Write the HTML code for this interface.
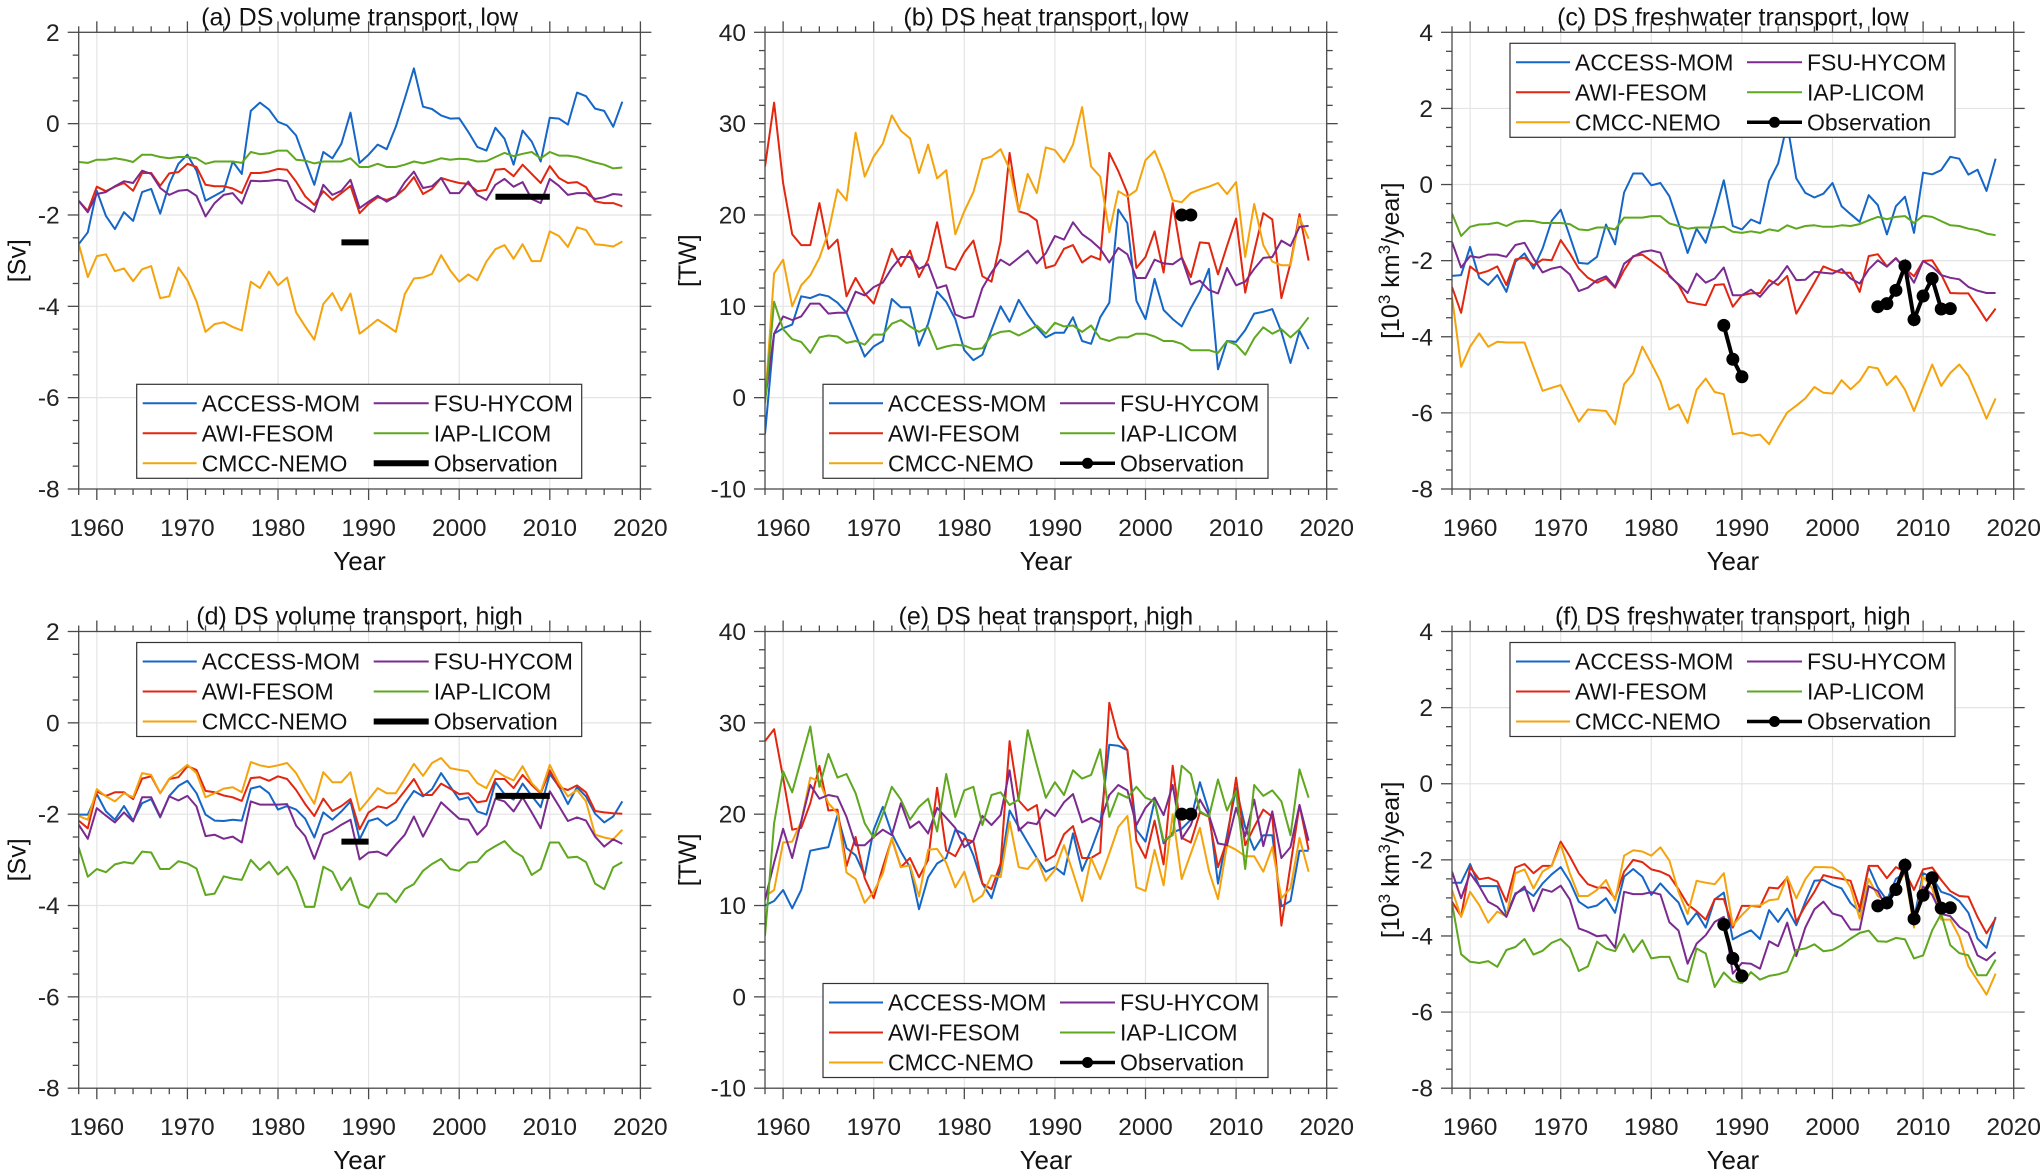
<!DOCTYPE html>
<html><head><meta charset="utf-8"><title>DS transports</title>
<style>
html,body{margin:0;padding:0;background:#fff;}
svg{display:block;font-family:"Liberation Sans",Arial,sans-serif;}
</style></head>
<body>
<svg id="fig" width="2043" height="1174" viewBox="0 0 2043 1174" xmlns="http://www.w3.org/2000/svg"></svg>
<script>
const startYear = 1958;
const endYear = 2018;
const xTickLabels = [1960,1970,1980,1990,2000,2010,2020];
const seriesNames = ["ACCESS-MOM","AWI-FESOM","CMCC-NEMO","FSU-HYCOM","IAP-LICOM"];

const a_access=[-2.64,-2.38,-1.47,-2.02,-2.31,-1.94,-2.13,-1.5,-1.43,-1.97,-1.32,-0.88,-0.68,-1.03,-1.69,-1.58,-1.47,-0.83,-1.1,0.28,0.46,0.31,0.04,-0.04,-0.26,-0.81,-1.34,-0.62,-0.76,-0.44,0.24,-0.86,-0.68,-0.46,-0.56,-0.07,0.55,1.21,0.37,0.32,0.18,0.11,0.12,-0.18,-0.51,-0.59,-0.09,-0.33,-0.9,-0.15,-0.39,-0.83,0.13,0.11,-0.02,0.68,0.6,0.33,0.28,-0.07,0.48];
const a_awi=[-1.69,-1.91,-1.38,-1.48,-1.38,-1.3,-1.47,-1.08,-1.08,-1.36,-1.09,-1.06,-0.88,-0.95,-1.34,-1.37,-1.37,-1.42,-1.52,-1.08,-1.08,-1.05,-0.99,-1.01,-1.27,-1.59,-1.78,-1.48,-1.67,-1.52,-1.36,-1.96,-1.76,-1.61,-1.67,-1.59,-1.42,-1.17,-1.54,-1.43,-1.19,-1.25,-1.3,-1.32,-1.48,-1.45,-1.01,-0.99,-1.15,-0.9,-1.1,-1.3,-0.93,-1.19,-1.3,-1.28,-1.39,-1.7,-1.74,-1.74,-1.81];
const a_cmcc=[-2.63,-3.36,-2.9,-2.86,-3.23,-3.17,-3.45,-3.19,-3.12,-3.82,-3.78,-3.15,-3.43,-3.89,-4.56,-4.39,-4.35,-4.45,-4.53,-3.46,-3.6,-3.24,-3.54,-3.37,-4.13,-4.44,-4.73,-3.95,-3.71,-4.09,-3.72,-4.6,-4.45,-4.29,-4.42,-4.56,-3.73,-3.39,-3.37,-3.29,-2.88,-3.21,-3.46,-3.3,-3.43,-3.02,-2.75,-2.66,-2.96,-2.64,-3.01,-3.01,-2.36,-2.46,-2.7,-2.27,-2.33,-2.64,-2.66,-2.69,-2.58];
const a_fsu=[-1.69,-1.94,-1.54,-1.5,-1.37,-1.26,-1.3,-1.03,-1.1,-1.41,-1.56,-1.47,-1.45,-1.58,-2.03,-1.74,-1.56,-1.52,-1.75,-1.25,-1.26,-1.25,-1.23,-1.26,-1.67,-1.8,-1.93,-1.34,-1.56,-1.47,-1.23,-1.85,-1.71,-1.58,-1.71,-1.59,-1.28,-1.05,-1.41,-1.37,-1.19,-1.52,-1.52,-1.27,-1.56,-1.67,-1.34,-1.21,-1.38,-1.28,-1.65,-1.74,-1.21,-1.36,-1.56,-1.52,-1.52,-1.65,-1.61,-1.54,-1.56];
const a_iap=[-0.84,-0.86,-0.79,-0.79,-0.76,-0.79,-0.84,-0.68,-0.68,-0.73,-0.76,-0.73,-0.73,-0.76,-0.88,-0.83,-0.83,-0.83,-0.86,-0.62,-0.67,-0.65,-0.59,-0.59,-0.79,-0.81,-0.87,-0.83,-0.83,-0.83,-0.76,-0.95,-0.95,-0.88,-0.95,-0.95,-0.9,-0.83,-0.87,-0.82,-0.76,-0.79,-0.77,-0.78,-0.83,-0.82,-0.73,-0.64,-0.71,-0.66,-0.62,-0.76,-0.62,-0.7,-0.7,-0.73,-0.79,-0.85,-0.9,-0.98,-0.96];

const b_access=[-4,7.0,7.6,8.0,11.1,10.9,11.3,11.1,10.4,9.3,6.9,4.5,5.6,6.2,10.8,9.9,9.9,5.7,8.1,11.6,10.5,8.6,5.2,4.1,4.7,7.4,10.0,8.3,10.7,9.1,7.7,6.6,7.1,7.1,8.8,6.2,5.9,8.8,10.4,20.6,19.1,10.6,8.6,13.0,9.6,8.6,7.8,9.8,11.6,14.1,3.1,6.2,6.1,7.4,9.2,9.4,9.7,7.2,3.8,7.3,5.3];
const b_awi=[25.3,32.3,23.5,17.9,16.7,16.7,21.3,16.3,17.3,11.1,13.1,11.4,10.3,13.3,16.3,14.4,16.1,13.2,15.1,19.2,14.3,14.0,15.9,17.2,13.3,12.7,17.1,26.8,20.4,20.1,19.4,14.2,14.5,16.3,16.7,14.8,15.5,15.1,26.8,24.8,22.4,14.2,15.4,18.2,13.7,21.3,15.4,13.2,17.0,16.9,13.5,16.6,19.6,11.5,16.0,20.2,19.5,10.9,14.7,20.1,15.0];
const b_cmcc=[-0.6,13.6,15.1,10.0,12.3,13.4,15.3,18.1,22.8,21.6,29.0,24.2,26.4,27.8,30.9,29.2,28.4,24.6,27.7,24.0,24.9,17.9,20.4,22.5,26.1,26.4,27.2,25.0,20.4,24.5,22.4,27.4,27.1,25.8,27.7,31.8,25.3,24.2,18.1,22.6,22.0,22.7,26.0,27.0,24.6,21.6,21.4,22.4,22.8,23.1,23.5,22.3,23.6,15.4,21.2,16.7,14.9,14.5,14.5,19.7,17.4];
const b_fsu=[-0.3,7.0,8.9,8.5,8.9,10.3,10.3,9.2,9.3,9.3,11.6,11.2,12.1,12.6,14.2,15.4,15.4,14.1,14.6,12.0,12.3,9.1,8.7,8.9,12.0,13.7,15.1,14.5,15.3,16.1,14.7,15.8,17.7,17.3,19.2,17.9,17.2,16.3,14.8,16.4,15.7,13.1,13.1,15.1,14.7,14.6,15.3,12.4,12.8,11.8,11.4,14.2,12.3,12.7,14.1,15.3,15.4,17.2,16.6,18.7,18.8];
const b_iap=[-0.6,10.5,7.5,6.4,6.1,4.9,6.6,6.8,6.7,6.0,6.2,5.8,6.9,6.9,8.1,8.5,7.8,7.2,7.7,5.3,5.6,5.8,5.7,5.3,5.4,6.8,7.2,7.3,6.8,7.3,7.9,7.0,8.2,7.8,7.9,7.2,7.9,6.5,6.2,6.6,6.6,7.0,7.0,6.7,6.2,6.2,5.9,5.2,5.2,5.2,4.9,6.2,5.8,4.7,6.5,7.7,7.0,7.5,6.6,7.5,8.8];

const c_access=[-2.4,-2.38,-1.64,-2.45,-2.64,-2.38,-2.82,-2.03,-1.81,-2.21,-1.68,-0.95,-0.66,-1.36,-2.06,-2.08,-1.9,-1.05,-1.57,-0.21,0.29,0.29,-0.02,0.04,-0.31,-1.02,-1.8,-1.16,-1.53,-0.76,0.11,-1.09,-1.18,-0.92,-1.02,0.09,0.55,1.6,0.16,-0.22,-0.34,-0.24,0.04,-0.57,-0.78,-0.98,-0.28,-0.54,-1.31,-0.57,-0.32,-1.27,0.31,0.27,0.38,0.73,0.68,0.26,0.39,-0.17,0.68];
const c_awi=[-2.69,-3.37,-2.15,-2.34,-2.27,-2.15,-2.64,-1.97,-1.92,-2.12,-1.97,-1.99,-1.46,-1.81,-2.21,-2.45,-2.58,-2.47,-2.71,-2.25,-1.88,-1.84,-2.01,-2.19,-2.38,-2.64,-3.08,-3.13,-3.17,-2.64,-2.62,-3.21,-2.91,-2.86,-2.85,-2.51,-2.64,-2.4,-3.39,-2.99,-2.58,-2.15,-2.25,-2.32,-2.32,-2.82,-1.88,-1.83,-2.15,-1.93,-2.21,-2.41,-2.01,-1.99,-2.36,-2.85,-2.86,-2.86,-3.21,-3.58,-3.26];
const c_cmcc=[-2.95,-4.79,-4.26,-3.91,-4.26,-4.13,-4.15,-4.15,-4.15,-4.79,-5.42,-5.34,-5.27,-5.75,-6.23,-5.91,-5.93,-5.95,-6.3,-5.25,-4.96,-4.26,-4.7,-5.17,-5.91,-5.78,-6.26,-5.39,-5.1,-5.45,-5.51,-6.56,-6.52,-6.6,-6.57,-6.82,-6.39,-5.99,-5.81,-5.62,-5.32,-5.47,-5.49,-5.14,-5.38,-5.16,-4.79,-4.83,-5.27,-5.03,-5.39,-5.95,-5.33,-4.73,-5.29,-4.95,-4.73,-5.03,-5.58,-6.15,-5.62];
const c_fsu=[-1.51,-2.18,-1.88,-1.92,-1.84,-1.84,-1.9,-1.59,-1.53,-1.94,-2.31,-2.21,-2.16,-2.36,-2.8,-2.71,-2.51,-2.41,-2.69,-2.08,-1.9,-1.77,-1.73,-1.79,-2.41,-2.62,-2.85,-2.34,-2.58,-2.47,-2.18,-2.91,-2.91,-2.76,-2.95,-2.67,-2.47,-2.14,-2.51,-2.5,-2.29,-2.32,-2.34,-2.22,-2.47,-2.6,-2.23,-1.99,-2.16,-1.94,-2.21,-2.58,-2.01,-2.16,-2.38,-2.45,-2.49,-2.69,-2.79,-2.85,-2.85];
const c_iap=[-0.76,-1.35,-1.11,-1.05,-1.04,-1.0,-1.09,-0.98,-0.95,-0.96,-1.01,-1.01,-1.01,-1.04,-1.18,-1.2,-1.13,-1.13,-1.18,-0.87,-0.87,-0.87,-0.83,-0.83,-1.02,-1.09,-1.16,-1.13,-1.13,-1.13,-1.11,-1.24,-1.27,-1.23,-1.27,-1.18,-1.22,-1.07,-1.16,-1.09,-1.07,-1.11,-1.11,-1.07,-1.09,-1.04,-0.94,-0.85,-0.91,-0.85,-0.83,-1.01,-0.82,-0.85,-0.96,-1.07,-1.09,-1.16,-1.2,-1.29,-1.33];

const d_access=[-2.01,-2.01,-1.56,-1.94,-2.12,-1.82,-2.14,-1.76,-1.67,-2.07,-1.6,-1.38,-1.27,-1.54,-2.01,-2.14,-2.15,-2.12,-2.14,-1.44,-1.39,-1.54,-1.9,-1.82,-1.9,-2.1,-2.51,-1.96,-2.12,-1.94,-1.72,-2.55,-2.15,-2.09,-2.25,-2.12,-1.78,-1.49,-1.61,-1.45,-1.1,-1.39,-1.68,-1.63,-1.94,-2.01,-1.3,-1.56,-1.68,-1.33,-1.6,-1.85,-1.12,-1.39,-1.78,-1.41,-1.61,-1.99,-2.18,-2.05,-1.72];
const d_awi=[-2.14,-2.31,-1.5,-1.6,-1.52,-1.52,-1.67,-1.22,-1.17,-1.54,-1.23,-1.19,-0.95,-1.03,-1.49,-1.52,-1.59,-1.63,-1.71,-1.21,-1.19,-1.27,-1.17,-1.23,-1.47,-1.78,-2.04,-1.66,-1.93,-1.82,-1.67,-2.33,-1.96,-1.83,-1.87,-1.74,-1.49,-1.23,-1.58,-1.58,-1.33,-1.44,-1.56,-1.54,-1.74,-1.71,-1.23,-1.23,-1.43,-1.14,-1.36,-1.54,-1.04,-1.41,-1.47,-1.37,-1.52,-1.93,-1.96,-1.98,-1.99];
const d_cmcc=[-2.04,-2.12,-1.45,-1.61,-1.72,-1.54,-1.63,-1.1,-1.14,-1.54,-1.22,-1.08,-0.92,-1.1,-1.63,-1.54,-1.44,-1.41,-1.52,-0.86,-0.93,-0.97,-0.93,-0.88,-1.1,-1.45,-1.77,-1.08,-1.3,-1.3,-1.08,-1.92,-1.68,-1.43,-1.54,-1.54,-1.23,-0.9,-1.16,-0.88,-0.77,-0.99,-1.03,-1.06,-1.32,-1.43,-1.04,-1.17,-1.26,-0.95,-1.32,-1.52,-0.92,-1.32,-1.61,-1.47,-1.72,-2.45,-2.51,-2.55,-2.34];
const d_fsu=[-2.23,-2.54,-1.87,-2.03,-2.18,-1.96,-2.16,-1.63,-1.63,-2.05,-1.61,-1.7,-1.6,-1.83,-2.48,-2.45,-2.54,-2.49,-2.62,-1.72,-1.79,-1.79,-1.79,-1.78,-2.25,-2.48,-2.98,-2.45,-2.36,-2.23,-2.12,-2.99,-2.84,-2.82,-2.91,-2.67,-2.45,-2.05,-2.49,-2.12,-1.74,-1.92,-2.1,-2.12,-2.45,-2.25,-1.66,-1.72,-1.94,-1.63,-1.96,-2.31,-1.5,-1.82,-2.15,-2.07,-2.14,-2.49,-2.71,-2.55,-2.65];
const d_iap=[-2.73,-3.37,-3.2,-3.27,-3.1,-3.05,-3.08,-2.82,-2.84,-3.2,-3.2,-3.03,-3.08,-3.19,-3.77,-3.74,-3.36,-3.41,-3.44,-3.0,-3.22,-3.04,-3.32,-3.15,-3.47,-4.03,-4.03,-3.15,-3.26,-3.66,-3.39,-3.97,-4.05,-3.74,-3.74,-3.93,-3.64,-3.53,-3.24,-3.09,-2.98,-3.2,-3.24,-3.06,-3.04,-2.82,-2.7,-2.59,-2.81,-2.93,-3.33,-3.2,-2.62,-2.62,-2.95,-2.93,-3.05,-3.52,-3.64,-3.16,-3.05];

const e_access=[10.0,10.5,11.7,9.7,11.7,16.0,16.2,16.4,19.9,16.3,15.5,13.3,18.3,20.8,17.9,15.9,14.2,9.6,13.1,14.6,15.2,18.3,17.8,15.5,12.4,10.8,14.1,20.4,18.6,16.9,15.2,13.7,14.2,13.4,17.9,13.8,16.1,18.8,27.6,27.5,27.0,18.3,17.0,21.5,16.8,18.0,18.4,19.4,23.5,20.3,12.4,17.7,22.9,18.6,16.1,17.7,17.7,9.9,10.5,16.0,16.0];
const e_awi=[28.0,29.3,24.0,18.3,18.5,21.2,25.3,20.4,20.5,14.3,17.5,13.0,10.8,14.2,17.3,14.2,15.2,13.1,15.0,22.9,16.0,15.4,17.3,17.0,12.4,11.8,14.6,28.0,21.5,20.4,21.0,14.9,15.5,17.8,18.7,15.2,15.2,15.8,32.2,28.4,27.0,17.1,15.2,19.3,14.5,25.3,17.4,16.9,20.2,19.7,14.2,17.1,24.0,16.6,18.6,20.5,19.7,7.8,14.4,21.0,16.1];
const e_cmcc=[11.0,11.7,16.9,17.0,19.2,24.0,23.6,21.2,20.1,13.6,12.9,10.3,11.5,13.5,17.4,14.2,14.4,11.0,16.1,16.2,14.7,12.0,13.7,10.4,11.1,13.3,13.1,19.2,14.2,14.0,15.2,12.7,13.9,16.6,13.6,10.5,15.2,12.9,15.7,18.6,19.8,12.0,11.6,16.1,12.2,20.0,12.9,15.7,18.5,13.8,10.7,16.6,16.1,15.4,15.4,13.7,16.4,10.8,11.9,17.4,13.7];
const e_fsu=[10.6,14.7,18.4,15.2,19.2,23.2,21.7,22.1,21.9,19.7,16.6,16.6,17.5,18.3,17.7,21.2,18.5,19.2,17.9,20.7,19.6,18.5,16.4,17.1,19.8,18.8,19.9,24.8,18.2,19.1,18.9,20.5,19.8,21.3,22.2,19.1,19.6,19.1,22.1,23.2,22.6,18.8,20.7,21.8,19.9,23.2,17.3,18.8,21.6,19.9,16.8,16.6,20.7,17.6,21.6,16.5,20.3,15.2,16.4,21.0,17.1];
const e_iap=[6.7,19.0,24.7,22.4,26.0,29.6,23.0,26.6,24.0,24.4,22.3,19.0,17.4,20.0,23.0,21.6,19.4,20.8,21.7,18.1,24.4,19.7,22.6,23.0,18.8,22.1,22.4,21.0,21.6,29.2,25.4,21.8,23.5,22.1,24.8,23.9,24.3,27.1,19.7,22.3,21.8,23.0,21.8,21.4,17.1,17.7,25.3,24.4,20.3,19.7,23.8,20.4,22.5,14.0,23.2,22.0,22.6,21.4,17.7,24.9,21.8];

const f_access=[-2.6,-2.6,-2.11,-2.69,-2.69,-2.69,-3.45,-2.88,-2.77,-2.95,-2.62,-2.38,-2.19,-2.57,-3.1,-3.26,-3.2,-3.01,-3.39,-2.44,-2.24,-2.44,-2.92,-2.62,-2.88,-3.12,-3.7,-3.39,-3.78,-3.04,-2.86,-4.09,-3.96,-3.85,-4.08,-3.32,-3.63,-3.28,-3.72,-3.1,-2.55,-2.53,-2.66,-2.75,-3.14,-3.36,-2.19,-2.73,-3.06,-2.5,-2.35,-3.56,-2.35,-2.46,-2.84,-2.92,-3.08,-3.39,-4.07,-4.31,-3.5];
const f_awi=[-3.1,-3.48,-2.19,-2.51,-2.47,-2.57,-3.1,-2.2,-2.11,-2.35,-2.16,-2.16,-1.52,-1.91,-2.35,-2.64,-2.73,-2.73,-3.01,-2.31,-2.0,-2.06,-2.25,-2.31,-2.42,-2.77,-3.17,-3.35,-3.57,-3.03,-3.03,-3.78,-3.21,-3.21,-3.23,-2.73,-2.75,-2.47,-3.63,-3.21,-2.84,-2.4,-2.46,-2.5,-2.55,-3.28,-2.16,-2.16,-2.48,-2.19,-2.31,-2.79,-2.25,-2.2,-2.53,-2.82,-2.95,-2.97,-3.5,-3.93,-3.54];
const f_cmcc=[-2.79,-3.5,-2.84,-3.19,-3.65,-3.36,-3.48,-2.35,-2.25,-2.75,-2.31,-2.16,-1.6,-2.35,-2.95,-2.95,-2.79,-2.53,-3.06,-1.89,-1.75,-1.78,-1.89,-1.67,-2.02,-2.84,-3.42,-2.55,-2.6,-2.64,-2.35,-3.72,-3.45,-3.21,-3.2,-3.06,-3.03,-2.44,-3.01,-2.51,-2.19,-2.19,-2.2,-2.35,-2.73,-3.54,-2.5,-2.95,-3.08,-2.75,-2.33,-3.78,-2.44,-2.75,-3.57,-3.57,-4.02,-4.8,-5.17,-5.54,-4.99];
const f_fsu=[-2.31,-3.01,-2.35,-2.69,-3.1,-3.23,-3.5,-2.91,-2.7,-3.35,-2.77,-2.84,-2.68,-3.04,-3.8,-3.89,-4.01,-3.98,-4.31,-2.84,-2.9,-2.9,-2.85,-2.91,-3.64,-3.86,-4.73,-4.2,-3.98,-3.63,-3.5,-4.99,-4.71,-4.73,-4.86,-4.14,-4.27,-3.65,-4.53,-3.78,-3.3,-3.1,-3.41,-3.48,-3.83,-3.83,-2.69,-2.82,-3.28,-2.66,-2.31,-3.61,-2.7,-2.92,-3.42,-3.48,-3.76,-3.92,-4.51,-4.64,-4.42];
const f_iap=[-3.14,-4.48,-4.68,-4.71,-4.66,-4.81,-4.37,-4.29,-4.08,-4.49,-4.39,-4.18,-4.08,-4.31,-4.92,-4.8,-4.15,-4.33,-4.4,-3.96,-4.42,-4.11,-4.59,-4.55,-4.55,-5.12,-5.21,-4.33,-4.46,-5.34,-4.96,-5.19,-5.24,-4.95,-5.15,-5.05,-5.01,-4.93,-4.37,-4.33,-4.22,-4.4,-4.37,-4.24,-4.07,-3.92,-3.86,-4.14,-4.15,-4.05,-4.09,-4.59,-4.51,-3.85,-3.42,-4.24,-4.45,-4.51,-5.03,-5.03,-4.62];

const obsVolStart=[1987,2004];
const obsVolEnd=[1990,2010];
const obsVolValue=[-2.6,-1.6];
const obsHeatYears=[2004,2005];
const obsHeatValues=[20,20];
const obsFwYears1=[1988,1989,1990];
const obsFwValues1=[-3.7,-4.59,-5.05];
const obsFwYears2=[2005,2006,2007,2008,2009,2010,2011,2012,2013];
const obsFwValues2=[-3.21,-3.13,-2.78,-2.14,-3.55,-2.93,-2.47,-3.27,-3.26];

const colors=["#1566c6","#e2260f","#f4a30c","#7b2a8f","#5ea71e"];
const NS="http://www.w3.org/2000/svg";
const svg=document.getElementById('fig');
function mk(tag,attrs,parent){const e=document.createElementNS(NS,tag);for(const k in attrs)e.setAttribute(k,attrs[k]);(parent||svg).appendChild(e);return e;}

const W=561.7,H=456.7;
const panels=[
 {id:"a",x0:78.7,y0:32.3,ymin:-8,ymax:2,major:2,minor:0.5,title:"(a) DS volume transport, low",ylab:"sv",yoff:-62,leg:"bottom",obs:"vol",data:[a_access,a_awi,a_cmcc,a_fsu,a_iap]},
 {id:"b",x0:765,y0:32.3,ymin:-10,ymax:40,major:10,minor:2,title:"(b) DS heat transport, low",ylab:"tw",yoff:-78,leg:"bottom",obs:"heat",data:[b_access,b_awi,b_cmcc,b_fsu,b_iap]},
 {id:"c",x0:1452,y0:32.3,ymin:-8,ymax:4,major:2,minor:0.5,title:"(c) DS freshwater transport, low",ylab:"fw",yoff:-62,leg:"top",obs:"fw",data:[c_access,c_awi,c_cmcc,c_fsu,c_iap]},
 {id:"d",x0:78.7,y0:631.5,ymin:-8,ymax:2,major:2,minor:0.5,title:"(d) DS volume transport, high",ylab:"sv",yoff:-62,leg:"top",obs:"vol",data:[d_access,d_awi,d_cmcc,d_fsu,d_iap]},
 {id:"e",x0:765,y0:631.5,ymin:-10,ymax:40,major:10,minor:2,title:"(e) DS heat transport, high",ylab:"tw",yoff:-78,leg:"bottom",obs:"heat",data:[e_access,e_awi,e_cmcc,e_fsu,e_iap]},
 {id:"f",x0:1452,y0:631.5,ymin:-8,ymax:4,major:2,minor:0.5,title:"(f) DS freshwater transport, high",ylab:"fw",yoff:-62,leg:"top",obs:"fw",data:[f_access,f_awi,f_cmcc,f_fsu,f_iap]}
];

panels.forEach(p=>{
 const g=mk('g',{});
 
 
 const sx=yr=>p.x0+(yr-1958)/62*W;
 const sy=v=>p.y0+(p.ymax-v)/(p.ymax-p.ymin)*H;
 const bottom=p.y0+H,right=p.x0+W;
 // grid
 const grid=mk('g',{stroke:"#e4e4e4","stroke-width":1.2},g);
 
 
 xTickLabels.forEach(t=>{if(t<2020)mk('line',{x1:sx(t),x2:sx(t),y1:p.y0,y2:bottom},grid);});
 for(let v=p.ymin+p.major;v<p.ymax;v+=p.major)mk('line',{x1:p.x0,x2:right,y1:sy(v),y2:sy(v)},grid);
 // clip
 const cp=mk('clipPath',{id:'clip'+p.id},g);mk('rect',{x:p.x0,y:p.y0,width:W,height:H},cp);
 const plot=mk('g',{"clip-path":"url(#clip"+p.id+")"},g);
 p.data.forEach((arr,si)=>{
   const pts=arr.map((v,i)=>sx(startYear+i).toFixed(1)+","+sy(v).toFixed(1)).join(" ");
   const pl=mk('polyline',{points:pts,fill:"none",stroke:colors[si],"stroke-width":2,"stroke-linejoin":"round"},plot);
   
   
 });
 // observations
 if(p.obs==="vol"){
   obsVolStart.forEach((s,i)=>{
     const l=mk('line',{x1:sx(s),x2:sx(obsVolEnd[i]),y1:sy(obsVolValue[i]),y2:sy(obsVolValue[i]),stroke:"#000","stroke-width":6},plot);
     
     
   });
 } else {
   const sets=p.obs==="heat"?[[obsHeatYears,obsHeatValues]]:[[obsFwYears1,obsFwValues1],[obsFwYears2,obsFwValues2]];
   sets.forEach(([ys,vs])=>{
     const pl=mk('polyline',{points:ys.map((y,i)=>sx(y)+","+sy(vs[i])).join(" "),fill:"none",stroke:"#000","stroke-width":4},plot);
     
     
     ys.forEach((y,i)=>{
       const c=mk('circle',{cx:sx(y),cy:sy(vs[i]),r:6.5,fill:"#000"},plot);
       
       
     });
   });
 }
 // box and ticks
 const ax=mk('g',{stroke:"#4a4a4a","stroke-width":1.3,fill:"none"},g);
 
 
 mk('rect',{x:p.x0,y:p.y0,width:W,height:H},ax);
 for(let yr=1958;yr<=2020;yr+=2){
   const L=(yr%10===0)?11:6;
   mk('line',{x1:sx(yr),x2:sx(yr),y1:bottom,y2:bottom+L},ax);
   mk('line',{x1:sx(yr),x2:sx(yr),y1:p.y0,y2:p.y0-L},ax);
 }
 const nMin=Math.round((p.ymax-p.ymin)/p.minor);
 for(let k=0;k<=nMin;k++){
   const v=p.ymin+k*p.minor;
   const isMaj=Math.abs(v/p.major-Math.round(v/p.major))<1e-6;
   const L=isMaj?11:6;
   mk('line',{x1:p.x0,x2:p.x0-L,y1:sy(v),y2:sy(v)},ax);
   mk('line',{x1:right,x2:right+L,y1:sy(v),y2:sy(v)},ax);
 }
 // tick labels
 xTickLabels.forEach(t=>{
   const tx=mk('text',{x:sx(t),y:bottom+47,"text-anchor":"middle","font-size":24.5,fill:"#222"},g);
   tx.textContent=t;
   
   
 });
 for(let v=p.ymin;v<=p.ymax+1e-9;v+=p.major){
   const tx=mk('text',{x:p.x0-19,y:sy(v)+8.5,"text-anchor":"end","font-size":24.5,fill:"#222"},g);
   tx.textContent=String(v);
   
   
 }
 // title
 const tt=mk('text',{x:p.x0+W/2,y:p.y0-7,"text-anchor":"middle","font-size":25,fill:"#111"},g);
 tt.textContent=p.title;
 
 
 // x label
 const xl=mk('text',{x:p.x0+W/2,y:bottom+81,"text-anchor":"middle","font-size":26,fill:"#111"},g);
 xl.textContent="Year";
 
 
 // y label
 const yc=p.y0+H/2, xc=p.x0+p.yoff+9;
 const yl=mk('text',{x:xc,y:yc,"text-anchor":"middle","font-size":25,fill:"#111",transform:"rotate(-90 "+xc+" "+yc+")"},g);
 
 
 if(p.ylab==="sv")yl.textContent="[Sv]";
 else if(p.ylab==="tw")yl.textContent="[TW]";
 else{
   const parts=[["[10",0],["3",1],[" km",0],["3",1],["/year]",0]];
   parts.forEach(([s,sup])=>{
     const ts=mk('tspan',sup?{"baseline-shift":"super","font-size":17}:{},yl);
     ts.textContent=s;
   });
 }
 // legend
 const lx=p.x0+58, ly=(p.leg==="top")?p.y0+11:p.y0+352;
 const lg=mk('g',{},g);
 
 
 mk('rect',{x:lx,y:ly,width:445,height:94,fill:"#fff",stroke:"#333","stroke-width":1.2},lg);
 const names=[seriesNames[0],seriesNames[3],seriesNames[1],seriesNames[4],seriesNames[2],"Observation"];
 const cidx=[0,3,1,4,2,-1];
 const rowY=[19,49,79];
 names.forEach((nm,i)=>{
   const col=i%2,row=Math.floor(i/2);
   const x1=lx+(col?237:6), x2=lx+(col?292:60), yy=ly+rowY[row];
   const e=mk('g',{},lg);
   
   
   if(cidx[i]>=0){
     mk('line',{x1:x1,x2:x2,y1:yy,y2:yy,stroke:colors[cidx[i]],"stroke-width":2},e);
   } else if(p.obs==="vol"){
     mk('line',{x1:x1,x2:x2,y1:yy,y2:yy,stroke:"#000","stroke-width":6},e);
   } else {
     mk('line',{x1:x1,x2:x2,y1:yy,y2:yy,stroke:"#000","stroke-width":3.5},e);
     mk('circle',{cx:(x1+x2)/2,cy:yy,r:5.5,fill:"#000"},e);
   }
   const t=mk('text',{x:x1+(col?60:59),y:yy+8,"font-size":23,fill:"#111"},e);
   t.textContent=nm;
 });
});
</script>
</body></html>
